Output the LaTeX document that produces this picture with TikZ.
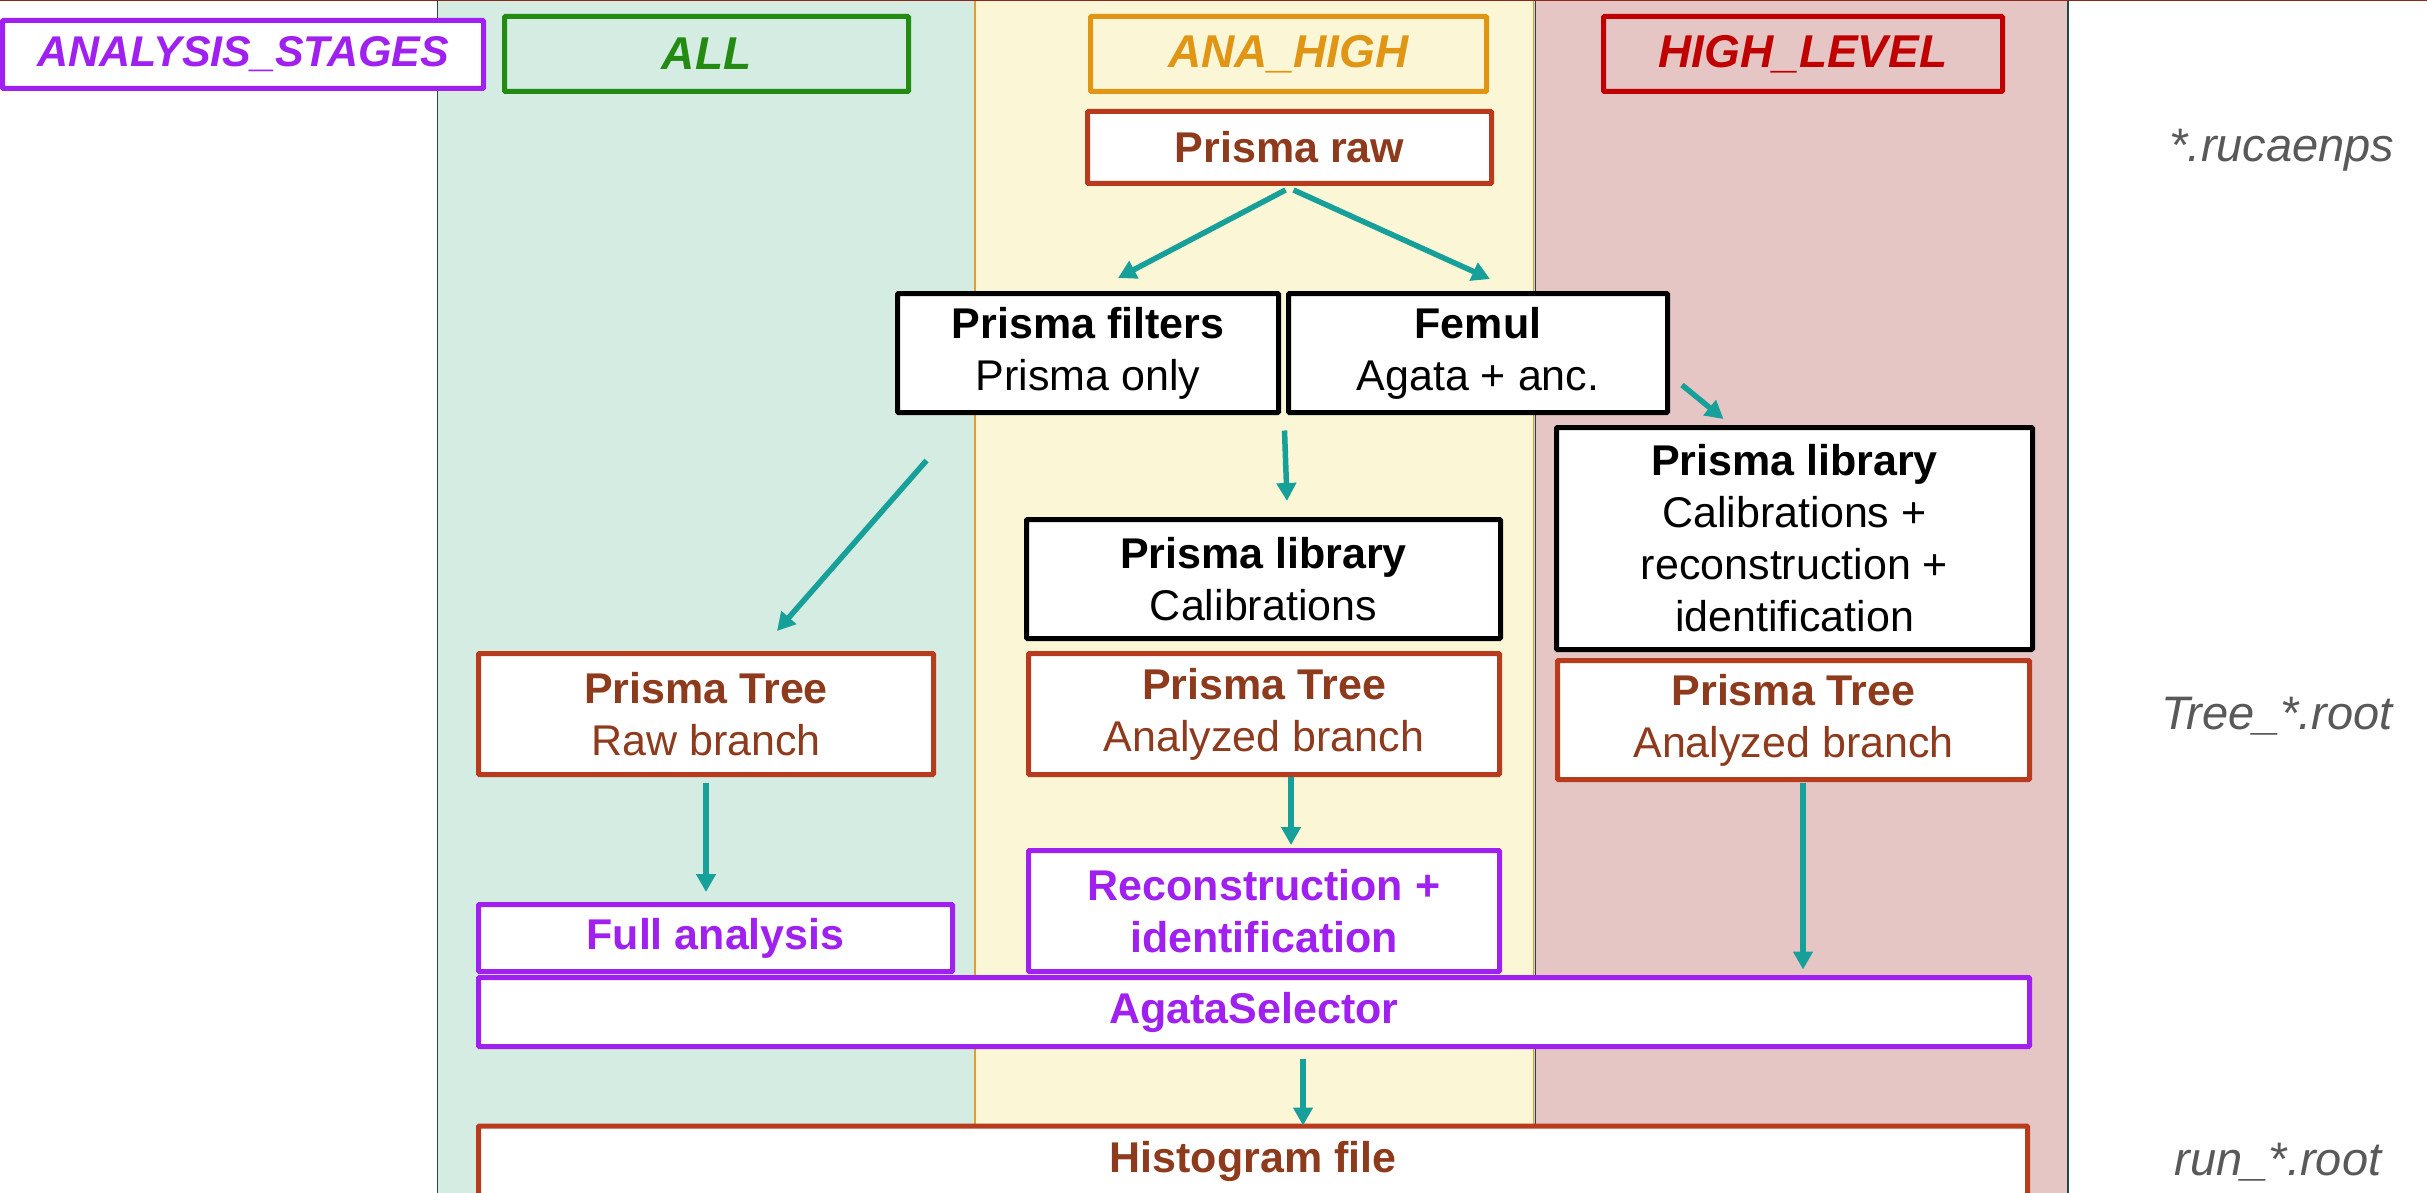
\documentclass[tikz,border=0pt]{standalone}
\usepackage{fontspec}
\setmainfont{Liberation Sans}
\usetikzlibrary{arrows.meta,calc}
\definecolor{colAll}{HTML}{D4ECE2}
\definecolor{colAna}{HTML}{FBF7D6}
\definecolor{colHigh}{HTML}{E6C5C5}
\definecolor{edgeTeal}{HTML}{1F4A48}
\definecolor{edgeOrange}{HTML}{E0A030}
\definecolor{topRed}{HTML}{8B2A1A}
\definecolor{purp}{HTML}{A020F0}
\definecolor{grn}{HTML}{238A12}
\definecolor{orng}{HTML}{E09515}
\definecolor{rd}{HTML}{C00000}
\definecolor{brownEdge}{HTML}{B83B1E}
\definecolor{brownText}{HTML}{8E3A1C}
\definecolor{arrowTeal}{HTML}{17A09A}
\definecolor{labelGray}{HTML}{595959}
\begin{document}
\begin{tikzpicture}[x=1pt,y=-1pt,
  box/.style={draw, line width=5pt, fill=white, inner sep=0pt, align=center,
    rounded corners=1pt, font=\fontsize{43}{52}\selectfont},
  titlebox/.style={box, font=\fontsize{46}{52}\selectfont\bfseries\itshape},
  blackbox/.style={box, draw=black, text=black},
  brownbox/.style={box, draw=brownEdge, text=brownText},
  purpbox/.style={box, draw=purp, text=purp, font=\fontsize{43}{52}\selectfont\bfseries},
  arr/.style={draw=arrowTeal, line width=5.5pt, -{Triangle[length=18pt,width=19pt]}},
  filelabel/.style={text=labelGray, font=\fontsize{47}{52}\selectfont\itshape, inner sep=0pt}
]
\useasboundingbox (0,0) rectangle (2427,1193);
% columns
\fill[white] (0,0) rectangle (2427,1193);
\fill[colAll] (437,0) rectangle (975,1200);
\fill[colAna] (975,0) rectangle (1534,1200);
\fill[colHigh] (1534,0) rectangle (2068,1200);
\draw[edgeTeal, line width=1.5pt] (437.5,0) -- (437.5,1200);
\draw[edgeOrange, line width=1.5pt] (975,0) -- (975,1200);
\draw[edgeOrange, line width=1.2pt] (1533.5,0) -- (1533.5,1200);
\draw[edgeTeal, line width=0.8pt] (1535,0) -- (1535,1200);
\draw[edgeTeal, line width=1.5pt] (2068,0) -- (2068,1200);
\draw[topRed, line width=2pt] (0,0.5) -- (2427,0.5);

% title boxes
\node[titlebox, draw=purp, text=purp, minimum width=481, minimum height=68,
  font=\fontsize{43}{52}\selectfont\bfseries\itshape] (stages) at (243,54.5) {ANALYSIS\_STAGES};
\node[titlebox, draw=grn, text=grn, fill=colAll, minimum width=404, minimum height=75] (all) at (706.5,54) {ALL};
\node[titlebox, draw=orng, text=orng, fill=colAna, minimum width=396, minimum height=75] (anahigh) at (1288.5,54) {ANA\_HIGH};
\node[titlebox, draw=rd, text=rd, fill=colHigh, minimum width=399, minimum height=75] (highlevel) at (1803,54) {HIGH\_LEVEL};

% flow boxes
\node[brownbox, minimum width=404, minimum height=72, font=\fontsize{43}{52}\selectfont\bfseries] (raw) at (1289.5,147.5) {Prisma raw};
\node[blackbox, minimum width=381, minimum height=119] (filters) at (1088,353) {\textbf{Prisma filters}\\Prisma only};
\node[blackbox, minimum width=379, minimum height=119] (femul) at (1478,353) {\textbf{Femul}\\Agata + anc.};
\node[blackbox, minimum width=474, minimum height=119] (libmid) at (1263.5,579) {\textbf{Prisma library}\\Calibrations};
\node[blackbox, minimum width=476, minimum height=222] (libright) at (1794.5,538.5) {\textbf{Prisma library}\\Calibrations +\\reconstruction +\\identification};
\node[brownbox, minimum width=455, minimum height=121] (treeraw) at (706,714) {\textbf{Prisma Tree}\\Raw branch};
\node[brownbox, minimum width=471, minimum height=121] (treemid) at (1264,714) {\textbf{Prisma Tree}\\Analyzed branch};
\node[brownbox, minimum width=472, minimum height=119] (treeright) at (1793.5,720) {\textbf{Prisma Tree}\\Analyzed branch};
\node[purpbox, minimum width=474, minimum height=67] (full) at (715.5,938) {Full analysis};
\node[purpbox, minimum width=471, minimum height=121] (recon) at (1264,911) {Reconstruction +\\identification};
\node[purpbox, minimum width=1551, minimum height=69] (agata) at (1254,1012) {AgataSelector};
\node[brownbox, minimum width=1549, minimum height=70, font=\fontsize{43}{52}\selectfont\bfseries] (hist) at (1253,1161) {Histogram file};

% file labels
\node[filelabel] (lrucaen) at (2282,150) {*.rucaenps};
\node[filelabel] (ltree) at (2277,716) {Tree\_*.root};
\node[filelabel] (lrun) at (2278,1162) {run\_*.root};

% arrows
\draw[arr] ($(raw.south)+(-4,4)$) -- ($(filters.north)+(30,-13)$);
\draw[arr] ($(raw.south)+(4,4)$) -- ($(femul.north)+(12,-12)$);
\draw[arr] ($(filters.south west)+(31.5,45.5)$) -- ($(treeraw.north)+(71,-20)$);
\draw[arr] ($(femul.south west)+(-1.5,15.5)$) -- ($(libmid.north)+(23.5,-16)$);
\draw[arr] ($(femul.east)+(12,32)$) -- ($(libright.north)+(-71,-6)$);
\draw[arr] ($(treeraw.south)+(0,5.5)$) -- ($(full.north)+(-9.5,-10)$);
\draw[arr] ($(treemid.south)+(27,0)$) -- ($(recon.north)+(27,-3)$);
\draw[arr] ($(treeright.south)+(9.5,1)$) -- ($(treeright.south |- agata.north)+(9.5,-5.5)$);
\draw[arr] ($(agata.south)+(49,9.5)$) -- ($(hist.north)+(50,2)$);
\end{tikzpicture}
\end{document}
